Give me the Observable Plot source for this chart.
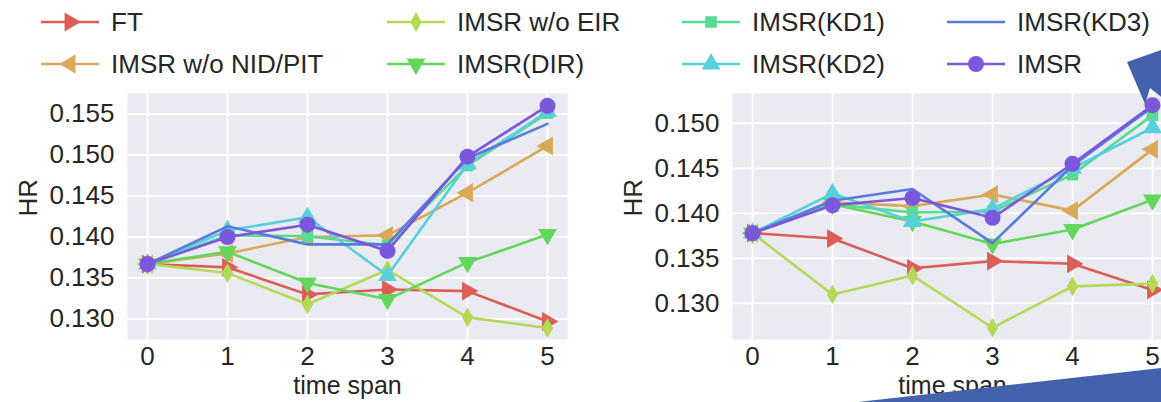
<!DOCTYPE html>
<html><head><meta charset="utf-8">
<script src="https://cdn.jsdelivr.net/npm/d3@7"></script>
<script src="https://cdn.jsdelivr.net/npm/@observablehq/plot@0.6"></script>
<style>
html,body{margin:0;padding:0;background:#fff;overflow:hidden;width:1161px;height:402px;}
#wrap{position:relative;width:1161px;height:402px;overflow:hidden;font-family:"Liberation Sans",Arial,sans-serif;color:#262626;}
.panel{position:absolute;top:80px;}
.leg{position:absolute;display:flex;align-items:center;font-size:26px;white-space:nowrap;height:40px;}
.leg svg{margin-right:12px;}
#deco{position:absolute;left:0;top:0;pointer-events:none;}
</style></head><body><div id="wrap"></div>
<script>
// ---- data ----
const timeSpans = [0, 1, 2, 3, 4, 5];
const seriesNames = ["FT", "IMSR w/o NID/PIT", "IMSR w/o EIR", "IMSR(DIR)", "IMSR(KD1)", "IMSR(KD2)", "IMSR(KD3)", "IMSR"];

const leftFT   = [0.1367, 0.1363, 0.1330, 0.1336, 0.1334, 0.1297];
const leftNID  = [0.1367, 0.1380, 0.1400, 0.1402, 0.1454, 0.1511];
const leftEIR  = [0.1367, 0.1356, 0.1318, 0.1360, 0.1302, 0.1289];
const leftDIR  = [0.1367, 0.1382, 0.1344, 0.1324, 0.1369, 0.1403];
const leftKD1  = [0.1367, 0.1402, 0.1401, 0.1390, 0.1487, 0.1551];
const leftKD2  = [0.1367, 0.1408, 0.1424, 0.1353, 0.1489, 0.1553];
const leftKD3  = [0.1367, 0.1413, 0.1391, 0.1391, 0.1496, 0.1538];
const leftIMSR = [0.1367, 0.1400, 0.1415, 0.1383, 0.1498, 0.1560];

const rightFT   = [0.1378, 0.1372, 0.1339, 0.1347, 0.1344, 0.1315];
const rightNID  = [0.1378, 0.1412, 0.1408, 0.1421, 0.1403, 0.1471];
const rightEIR  = [0.1378, 0.1310, 0.1331, 0.1273, 0.1319, 0.1322];
const rightDIR  = [0.1378, 0.1410, 0.1391, 0.1366, 0.1382, 0.1415];
const rightKD1  = [0.1378, 0.1410, 0.1401, 0.1402, 0.1443, 0.1509];
const rightKD2  = [0.1378, 0.1422, 0.1391, 0.1405, 0.1450, 0.1495];
const rightKD3  = [0.1378, 0.1414, 0.1427, 0.1367, 0.1453, 0.1518];
const rightIMSR = [0.1378, 0.1409, 0.1417, 0.1395, 0.1455, 0.1520];

const leftYTicks  = [0.130, 0.135, 0.140, 0.145, 0.150, 0.155];
const rightYTicks = [0.130, 0.135, 0.140, 0.145, 0.150];

// ---- styles ----
const seriesColors  = ["#db5f57", "#dba857", "#b3d957", "#63d75a", "#57db8f", "#57d0db", "#5b7bdb", "#7b57db"];
const seriesSymbols = ["triangle", "triangle", "diamond", "triangle", "square", "triangle", null, "circle"];
const seriesRotate  = [90, -90, 0, 180, 0, 0, 0, 0];
const seriesR       = [7, 7, 6, 7, 6.5, 7, 0, 8];

const font = '"Liberation Sans", Arial, sans-serif';
const textColor = "#262626";

function toRows(valuesList) {
  return seriesNames.flatMap((s, i) => valuesList[i].map((v, j) => ({t: timeSpans[j], v, s})));
}

function panel(rows, yDomain, yTicks, width, marginLeft, marginRight) {
  const marks = [
    Plot.frame({fill: "#eaeaf2", stroke: null}),
    Plot.gridX(timeSpans, {stroke: "#ffffff", strokeOpacity: 1, strokeWidth: 1.8}),
    Plot.gridY(yTicks, {stroke: "#ffffff", strokeOpacity: 1, strokeWidth: 1.8}),
    Plot.axisX(timeSpans, {tickSize: 0, tickPadding: 7, label: null, tickFormat: d => String(d), fontSize: 26}),
    Plot.axisY(yTicks, {tickSize: 0, tickPadding: 13, label: null, tickFormat: d3.format(".3f"), fontSize: 26}),
    Plot.text(["time span"], {text: d => d, frameAnchor: "bottom", dy: 54, fontSize: 25, fill: textColor}),
    Plot.text(["HR"], {text: d => d, frameAnchor: "left", rotate: -90, dx: -99, fontSize: 26, fill: textColor})
  ];
  seriesNames.forEach((s, i) => {
    const d = rows.filter(r => r.s === s);
    marks.push(Plot.line(d, {x: "t", y: "v", stroke: seriesColors[i], strokeWidth: 2.6}));
    if (seriesSymbols[i]) {
      marks.push(Plot.dot(d, {x: "t", y: "v", symbol: seriesSymbols[i], r: seriesR[i],
        rotate: seriesRotate[i], fill: seriesColors[i], stroke: "none"}));
    }
  });
  return Plot.plot({
    width, height: 322,
    marginTop: 13, marginBottom: 63, marginLeft, marginRight,
    style: {background: "transparent", fontFamily: font, fontSize: "26px", color: textColor, overflow: "visible"},
    x: {domain: [-0.25, 5.25]},
    y: {domain: yDomain},
    marks
  });
}

const wrap = document.getElementById("wrap");

const leftRows = toRows([leftFT, leftNID, leftEIR, leftDIR, leftKD1, leftKD2, leftKD3, leftIMSR]);
const rightRows = toRows([rightFT, rightNID, rightEIR, rightDIR, rightKD1, rightKD2, rightKD3, rightIMSR]);

const p1 = panel(leftRows, [0.1275, 0.1575], leftYTicks, 580, 127, 13);
p1.classList.add("panel"); p1.style.left = "0px";
wrap.appendChild(p1);

const p2 = panel(rightRows, [0.1260, 0.1533], rightYTicks, 600, 152, 8);
p2.classList.add("panel"); p2.style.left = "580px";
wrap.appendChild(p2);

// ---- legend ----
const legCols = [41, 387, 682, 947];
const legRows = [2, 44];
const symbolMap = {triangle: d3.symbolTriangle, diamond: d3.symbolDiamond, square: d3.symbolSquare, circle: d3.symbolCircle};
seriesNames.forEach((s, i) => {
  const col = Math.floor(i / 2), row = i % 2;
  const item = document.createElement("div");
  item.className = "leg";
  item.style.left = legCols[col] + "px";
  item.style.top = legRows[row] + "px";
  const svg = d3.create("svg").attr("width", 58).attr("height", 32);
  svg.append("line").attr("x1", 0).attr("x2", 58).attr("y1", 16).attr("y2", 16)
    .attr("stroke", seriesColors[i]).attr("stroke-width", 2.6);
  if (seriesSymbols[i]) {
    const r = seriesR[i];
    svg.append("path").attr("d", d3.symbol(symbolMap[seriesSymbols[i]], Math.PI * r * r)())
      .attr("transform", `translate(29,16) rotate(${seriesRotate[i]})`)
      .attr("fill", seriesColors[i]);
  }
  item.appendChild(svg.node());
  const label = document.createElement("span");
  label.textContent = s;
  item.appendChild(label);
  wrap.appendChild(item);
});

// ---- slide annotation arrows (decoration in the reference) ----
const deco = d3.create("svg").attr("id", "deco").attr("width", 1161).attr("height", 402);
deco.append("polygon").attr("points", "1127,62 1178,44 1166,62 1200,95 1180,112 1150,88 1145,104").attr("fill", "#4262ab");
deco.append("polygon").attr("points", "858,402 1161,368 1161,402").attr("fill", "#4262ab");
wrap.appendChild(deco.node());
</script>
</body></html>
